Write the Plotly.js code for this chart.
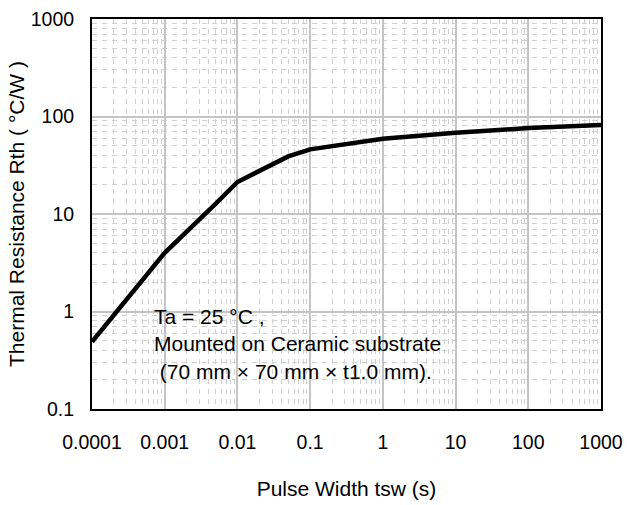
<!DOCTYPE html>
<html><head><meta charset="utf-8">
<script src="https://cdn.plot.ly/plotly-3.0.1.min.js"></script>
<style>html,body{margin:0;padding:0;background:#fff}</style>
</head><body>
<div id="chart" style="width:627px;height:505px"></div>
<script>
var pulseWidth = [0.0001, 0.001, 0.005, 0.01, 0.05, 0.1, 1, 10, 100, 1000];
var thermalRes = [0.49, 4.0, 12.7, 21.3, 39, 46, 59, 68, 76, 82];
var xTickVals = [0.0001, 0.001, 0.01, 0.1, 1, 10, 100, 1000];
var xTickText = ["0.0001", "0.001", "0.01", "0.1", "1", "10", "100", "1000"];
var yTickVals = [0.1, 1, 10, 100, 1000];
var yTickText = ["0.1", "1", "10", "100", "1000"];
var noteLines = ["Ta = 25 °C ,", "Mounted on Ceramic substrate", " (70 mm × 70 mm × t1.0 mm)."];

function minorVals(lo, hi){
  var v = [];
  for (var k = lo; k < hi; k++) for (var m = 2; m <= 9; m++) v.push(m * Math.pow(10, k));
  return v;
}
var fam = "'Liberation Sans', Arial, sans-serif";
var tickFont = {family: fam, size: 19.5, color: "#000"};
var titleFont = {family: fam, size: 21, color: "#000"};
var noteFont = {family: fam, size: 21, color: "#000"};
var noteY = [0.236, 0.169, 0.097];
var annotations = noteLines.map(function(t, i){
  return {xref: "paper", yref: "paper", x: 0.118, y: noteY[i], xanchor: "left", yanchor: "middle",
          text: t, showarrow: false, font: noteFont, align: "left"};
});
function axis(range, tv, tt, minor, standoff, title, tstand){
  return {
    type: "log", range: range, showline: true, linecolor: "#000", linewidth: 2, mirror: true,
    ticks: "", showgrid: true, gridcolor: "#c4c4c4", gridwidth: 2, zeroline: false,
    tickvals: tv, ticktext: tt, tickfont: tickFont, ticklabelstandoff: standoff,
    minor: {tickmode: "array", tickvals: minor, showgrid: true, gridcolor: "#d0d0d0", gridwidth: 1, griddash: "5px,5px", ticks: ""},
    title: {text: title, font: titleFont, standoff: tstand}
  };
}
var layout = {
  width: 627, height: 505,
  margin: {l: 92, r: 26, t: 19, b: 96},
  paper_bgcolor: "#fff", plot_bgcolor: "#fff",
  showlegend: false,
  xaxis: axis([-4, 3], xTickVals, xTickText, minorVals(-4, 3), 15, "Pulse Width tsw (s)", 29),
  yaxis: axis([-1, 3], yTickVals, yTickText, minorVals(-1, 3), 12, "Thermal Resistance Rth ( °C/W )", 0),
  shapes: [{type: "rect", xref: "paper", yref: "paper", x0: 0.108, x1: 0.715, y0: 0.049, y1: 0.279,
            fillcolor: "#fff", line: {width: 0}, layer: "between"}],
  annotations: annotations
};
Plotly.newPlot("chart", [{
  x: pulseWidth, y: thermalRes, type: "scatter", mode: "lines",
  line: {color: "#000", width: 4.5}
}], layout, {staticPlot: true});
</script>
</body></html>
